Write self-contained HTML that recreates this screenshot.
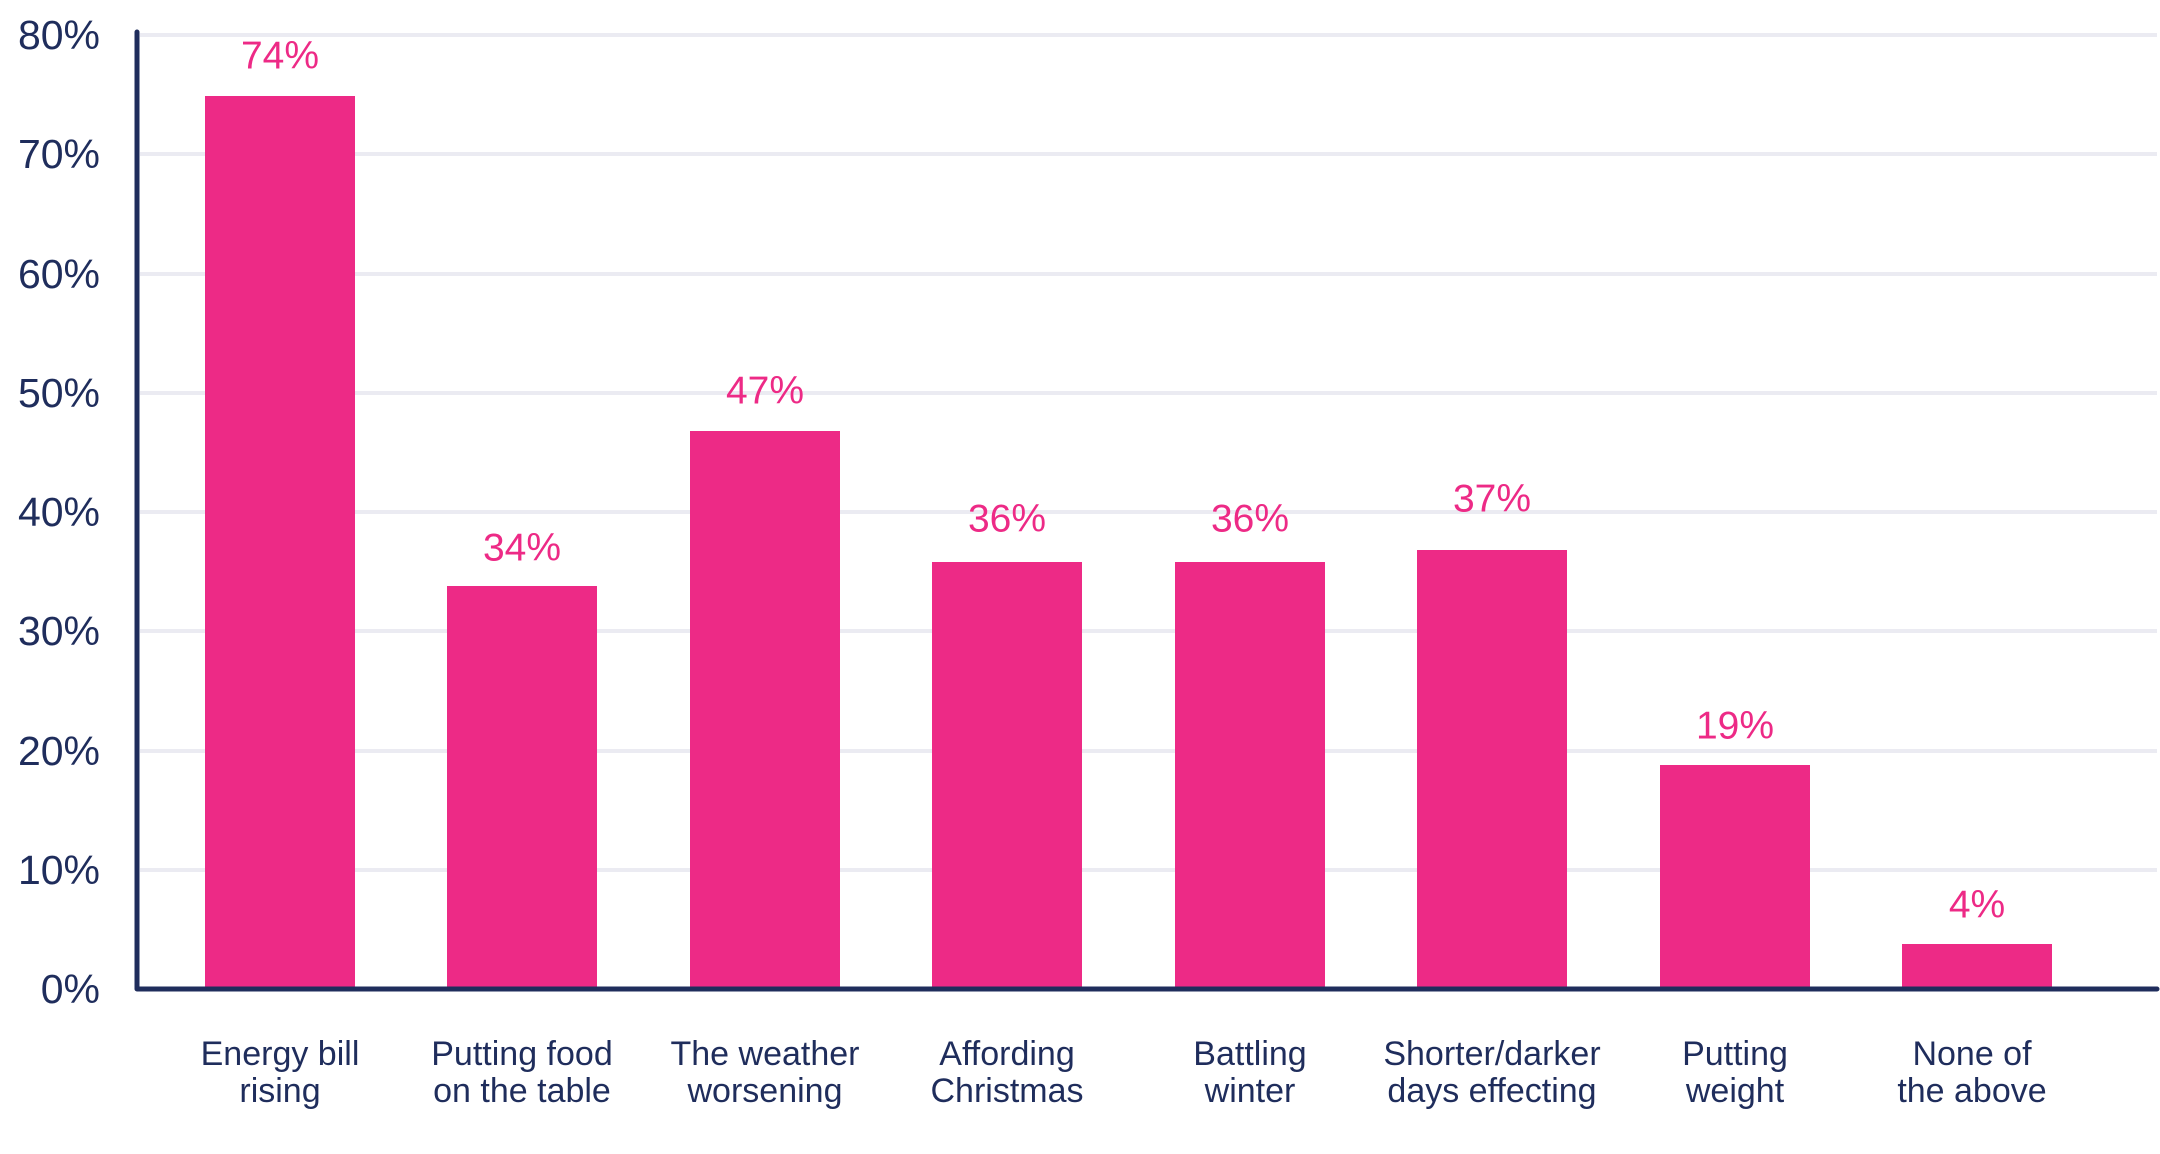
<!DOCTYPE html>
<html><head><meta charset="utf-8"><style>
html,body{margin:0;padding:0;background:#fff;}
svg{display:block;font-family:"Liberation Sans",sans-serif;}
</style></head><body>
<svg width="2160" height="1154" viewBox="0 0 2160 1154" xmlns="http://www.w3.org/2000/svg">
<g stroke="#ebebf2" stroke-width="4">
<line x1="140" x2="2157" y1="35" y2="35"/>
<line x1="140" x2="2157" y1="154" y2="154"/>
<line x1="140" x2="2157" y1="274" y2="274"/>
<line x1="140" x2="2157" y1="393" y2="393"/>
<line x1="140" x2="2157" y1="512" y2="512"/>
<line x1="140" x2="2157" y1="631" y2="631"/>
<line x1="140" x2="2157" y1="751" y2="751"/>
<line x1="140" x2="2157" y1="870" y2="870"/>
</g>
<g fill="#1f2d5c" font-size="41" text-anchor="end" dominant-baseline="central">
<text x="100" y="35">80%</text>
<text x="100" y="154">70%</text>
<text x="100" y="274">60%</text>
<text x="100" y="393">50%</text>
<text x="100" y="512">40%</text>
<text x="100" y="631">30%</text>
<text x="100" y="751">20%</text>
<text x="100" y="870">10%</text>
<text x="100" y="989">0%</text>
</g>
<g fill="#ed2a86">
<rect x="205" y="96" width="150" height="893"/>
<rect x="447" y="586" width="150" height="403"/>
<rect x="690" y="431" width="150" height="558"/>
<rect x="932" y="562" width="150" height="427"/>
<rect x="1175" y="562" width="150" height="427"/>
<rect x="1417" y="550" width="150" height="439"/>
<rect x="1660" y="765" width="150" height="224"/>
<rect x="1902" y="944" width="150" height="45"/>
</g>
<g fill="#ed2a86" font-size="39" text-anchor="middle" dominant-baseline="central">
<text x="280" y="56">74%</text>
<text x="522" y="548">34%</text>
<text x="765" y="391">47%</text>
<text x="1007" y="519">36%</text>
<text x="1250" y="519">36%</text>
<text x="1492" y="499">37%</text>
<text x="1735" y="726">19%</text>
<text x="1977" y="905">4%</text>
</g>
<path d="M137 32 V989 H2157" fill="none" stroke="#1f2d5c" stroke-width="5" stroke-linecap="round" stroke-linejoin="round"/>
<g fill="#1f2d5c" font-size="34" text-anchor="middle" dominant-baseline="central">
<text x="280" y="1054">Energy bill</text><text x="280" y="1091">rising</text>
<text x="522" y="1054">Putting food</text><text x="522" y="1091">on the table</text>
<text x="765" y="1054">The weather</text><text x="765" y="1091">worsening</text>
<text x="1007" y="1054">Affording</text><text x="1007" y="1091">Christmas</text>
<text x="1250" y="1054">Battling</text><text x="1250" y="1091">winter</text>
<text x="1492" y="1054">Shorter/darker</text><text x="1492" y="1091">days effecting</text>
<text x="1735" y="1054">Putting</text><text x="1735" y="1091">weight</text>
<text x="1972" y="1054">None of</text><text x="1972" y="1091">the above</text>
</g>
</svg>
</body></html>
